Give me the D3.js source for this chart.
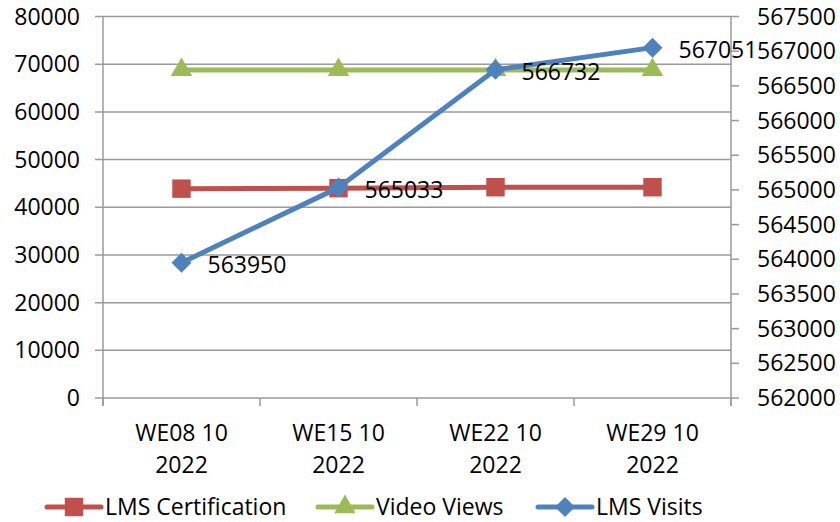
<!DOCTYPE html>
<html>
<head>
<meta charset="utf-8">
<script src="https://cdn.jsdelivr.net/npm/d3@7"></script>
<style>
  body { margin: 0; background: #fff; }
  text { font-family: "Open Sans", sans-serif; fill: #000; }
</style>
</head>
<body>
<svg width="840" height="522"></svg>
<script>

// data
let categories = ["WE08 10 2022", "WE15 10 2022", "WE22 10 2022", "WE29 10 2022"];
let lmsCertification = [43900, 44000, 44200, 44200];
let videoViews = [68800, 68800, 68800, 68800];
let lmsVisits = [563950, 565033, 566732, 567051];
let leftTicks = [0, 10000, 20000, 30000, 40000, 50000, 60000, 70000, 80000];
let rightTicks = [562000, 562500, 563000, 563500, 564000, 564500, 565000, 565500, 566000, 566500, 567000, 567500];

let svg = d3.select('svg');
let plotL = 103, plotR = 731, plotT = 16.5, plotB = 398;
let fs = 23;

let x = d3.scaleBand()
    .domain(categories)
    .range([plotL, plotR]);

let yL = d3.scaleLinear()
    .domain([0, 80000])
    .range([plotB, plotT]);

let yR = d3.scaleLinear()
    .domain([562000, 567500])
    .range([plotB, plotT]);

let cx = d => x(d) + x.bandwidth() / 2;

// gridlines
svg.append('g')
    .selectAll('line')
    .data(leftTicks)
    .enter().append('line')
    .attr('x1', plotL - 8).attr('x2', plotR)
    .attr('y1', d => yL(d)).attr('y2', d => yL(d))
    .style('stroke', '#9a9a9a')
    .style('stroke-width', 1.5);

// axis lines
let axisCol = '#9a9a9a';
svg.append('line').attr('x1', plotL).attr('x2', plotL).attr('y1', plotT).attr('y2', plotB + 8)
    .style('stroke', axisCol).style('stroke-width', 1.5);
svg.append('line').attr('x1', plotR).attr('x2', plotR).attr('y1', plotT).attr('y2', plotB + 8)
    .style('stroke', axisCol).style('stroke-width', 1.5);

// category ticks
let bounds = categories.map(d => x(d)).concat([plotR]);
svg.append('g')
    .selectAll('line')
    .data(bounds)
    .enter().append('line')
    .attr('x1', d => d).attr('x2', d => d)
    .attr('y1', plotB).attr('y2', plotB + 8)
    .style('stroke', axisCol).style('stroke-width', 1.5);

// right ticks
svg.append('g')
    .selectAll('line')
    .data(rightTicks)
    .enter().append('line')
    .attr('x1', plotR).attr('x2', plotR + 8)
    .attr('y1', d => yR(d)).attr('y2', d => yR(d))
    .style('stroke', axisCol).style('stroke-width', 1.5);

// left labels
svg.append('g')
    .selectAll('text')
    .data(leftTicks)
    .enter().append('text')
    .attr('x', 80)
    .attr('y', d => yL(d))
    .attr('dy', '0.35em')
    .attr('text-anchor', 'end')
    .style('font-size', fs + 'px')
    .text(d => d);

// right labels
svg.append('g')
    .selectAll('text')
    .data(rightTicks)
    .enter().append('text')
    .attr('x', 757)
    .attr('y', d => yR(d))
    .attr('dy', '0.35em')
    .style('font-size', fs + 'px')
    .text(d => d);

// category labels (two lines)
let catText = svg.append('g')
    .selectAll('text')
    .data(categories)
    .enter().append('text')
    .attr('text-anchor', 'middle')
    .style('font-size', fs + 'px');
catText.append('tspan')
    .attr('x', d => cx(d)).attr('y', 433).attr('dy', '0.35em')
    .text(d => d.slice(0, 7));
catText.append('tspan')
    .attr('x', d => cx(d)).attr('y', 465).attr('dy', '0.35em')
    .text(d => d.slice(8));

// markers
let square = d3.symbol().type(d3.symbolSquare).size(340);
let triangle = d3.symbol().type(d3.symbolTriangle).size(200);
let diamond = d3.symbol().type(d3.symbolSquare).size(200);

let series = [
    { name: 'LMS Certification', values: lmsCertification, y: yL, color: '#C0504D', mark: square, rot: 0 },
    { name: 'Video Views', values: videoViews, y: yL, color: '#9BBB59', mark: triangle, rot: 0 },
    { name: 'LMS Visits', values: lmsVisits, y: yR, color: '#4F81BD', mark: diamond, rot: 45 }
];

let line = d3.line();

series.forEach(function (s) {
    let pts = categories.map((c, i) => [cx(c), s.y(s.values[i])]);
    svg.append('path')
        .attr('d', line(pts))
        .style('fill', 'none')
        .style('stroke', s.color)
        .style('stroke-width', 5)
        .style('stroke-linejoin', 'round');
    svg.append('g')
        .selectAll('path')
        .data(pts)
        .enter().append('path')
        .attr('d', s.mark)
        .attr('transform', d => 'translate(' + d[0] + ',' + d[1] + ') rotate(' + s.rot + ')')
        .style('fill', s.color);
});

// data labels for LMS Visits
svg.append('g')
    .selectAll('text')
    .data(lmsVisits)
    .enter().append('text')
    .attr('x', (d, i) => cx(categories[i]) + 26)
    .attr('y', d => yR(d) + 2)
    .attr('dy', '0.35em')
    .style('font-size', fs + 'px')
    .text(d => d);

// legend
let legendY = 507;
let legendX = [47, 318, 538];
let legend = svg.append('g')
    .selectAll('g')
    .data(series)
    .enter().append('g')
    .attr('transform', (d, i) => 'translate(' + legendX[i] + ',' + legendY + ')');
legend.append('line')
    .attr('x1', 0).attr('x2', 54)
    .style('stroke', d => d.color)
    .style('stroke-width', 5)
    .style('stroke-linecap', 'round');
legend.append('path')
    .attr('d', d => d.mark())
    .attr('transform', d => 'translate(27,0) rotate(' + d.rot + ')')
    .style('fill', d => d.color);
legend.append('text')
    .attr('x', 58)
    .attr('dy', '0.35em')
    .style('font-size', fs + 'px')
    .text(d => d.name);

</script>
</body>
</html>
